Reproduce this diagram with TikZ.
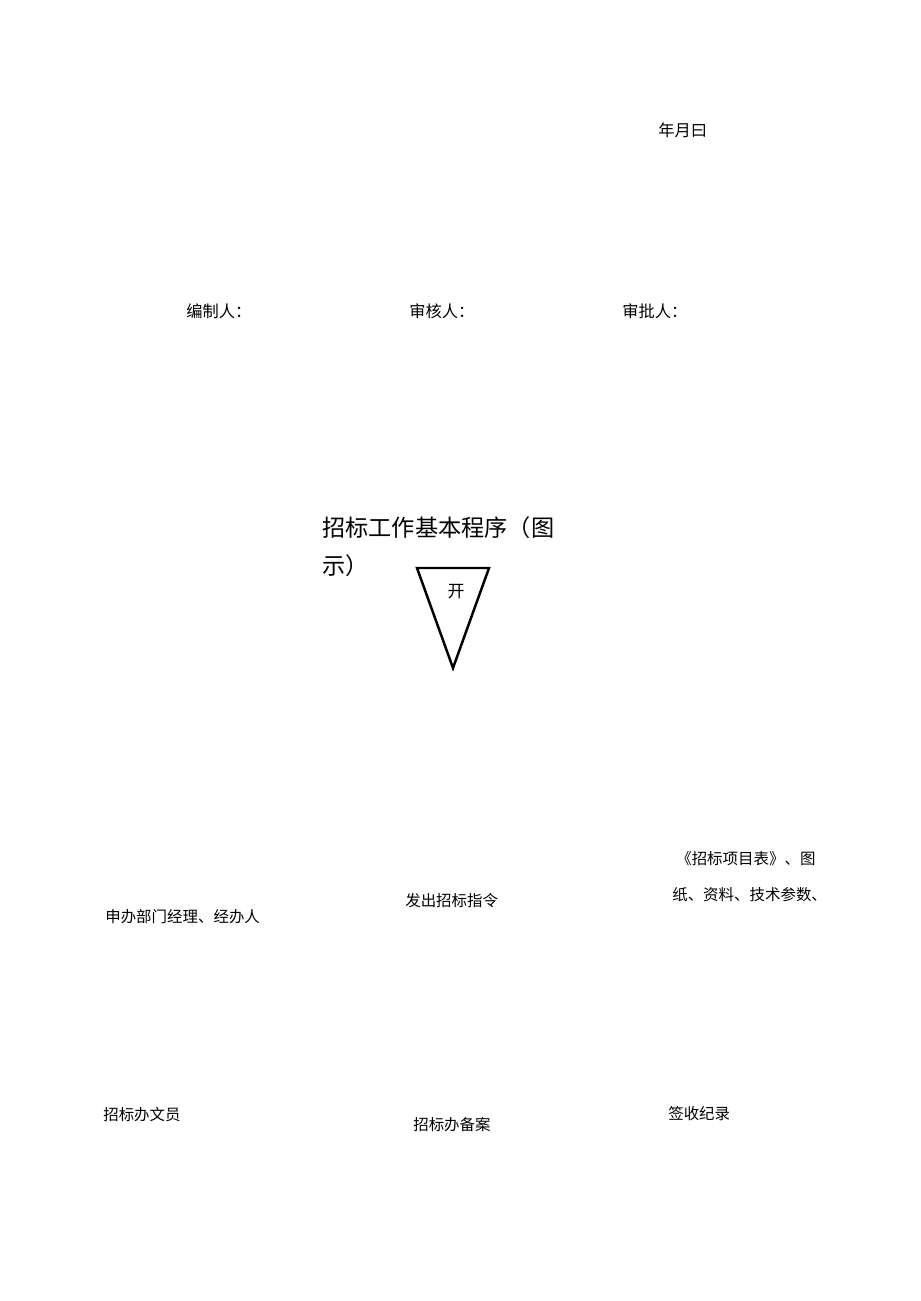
\documentclass[tikz,border=0pt]{standalone}
\usepackage{fontspec}
\setmainfont{Noto Sans CJK SC}
\begin{document}
\begin{tikzpicture}[
        x=0.6467pt, y=-0.6467pt,
        lbl/.style = {
            inner sep=0pt, anchor=west, font=\fontsize{10}{12}\selectfont
        },
        sign/.style = {
            lbl, font=\fontsize{10.5}{12}\selectfont
        },
        heading/.style = {
            inner sep=0pt, anchor=north west, align=left,
            font=\fontsize{15}{24.5}\selectfont
        },
        startmark/.style = {
            draw, line width=1.6pt, line join=miter
        },
        ]
        \useasboundingbox (0,0) rectangle (920,1301);
        % signatures
        \node[sign] (date) at (658,130) {年月曰};
        \node[sign] (author) at (186,311) {编制人：};
        \node[sign] (checker) at (409,311) {审核人：};
        \node[sign] (approver) at (622,311) {审批人：};
        % heading and start mark
        \node[heading] (title) at (322,516) {招标工作基本程序（图\\示）};
        \coordinate (tl) at (417,568);
        \coordinate (tr) at (489,568);
        \coordinate (tb) at (453,668);
        \draw[startmark] (tl) -- (tr) -- (tb) -- cycle;
        \node[lbl, anchor=center, font=\fontsize{11}{12}\selectfont] (start) at (456,592) {开};
        % flow labels
        \node[lbl] (applicant) at (105,917) {申办部门经理、经办人};
        \node[lbl] (order) at (405,901) {发出招标指令};
        \node[lbl] (docs1) at (676,859) {《招标项目表》、图};
        \node[lbl] (docs2) at (672,895) {纸、资料、技术参数、};
        \node[lbl] (clerk) at (103,1115) {招标办文员};
        \node[lbl] (record) at (413,1125) {招标办备案};
        \node[lbl] (receipt) at (668,1114) {签收纪录};
    \end{tikzpicture}
\end{document}
